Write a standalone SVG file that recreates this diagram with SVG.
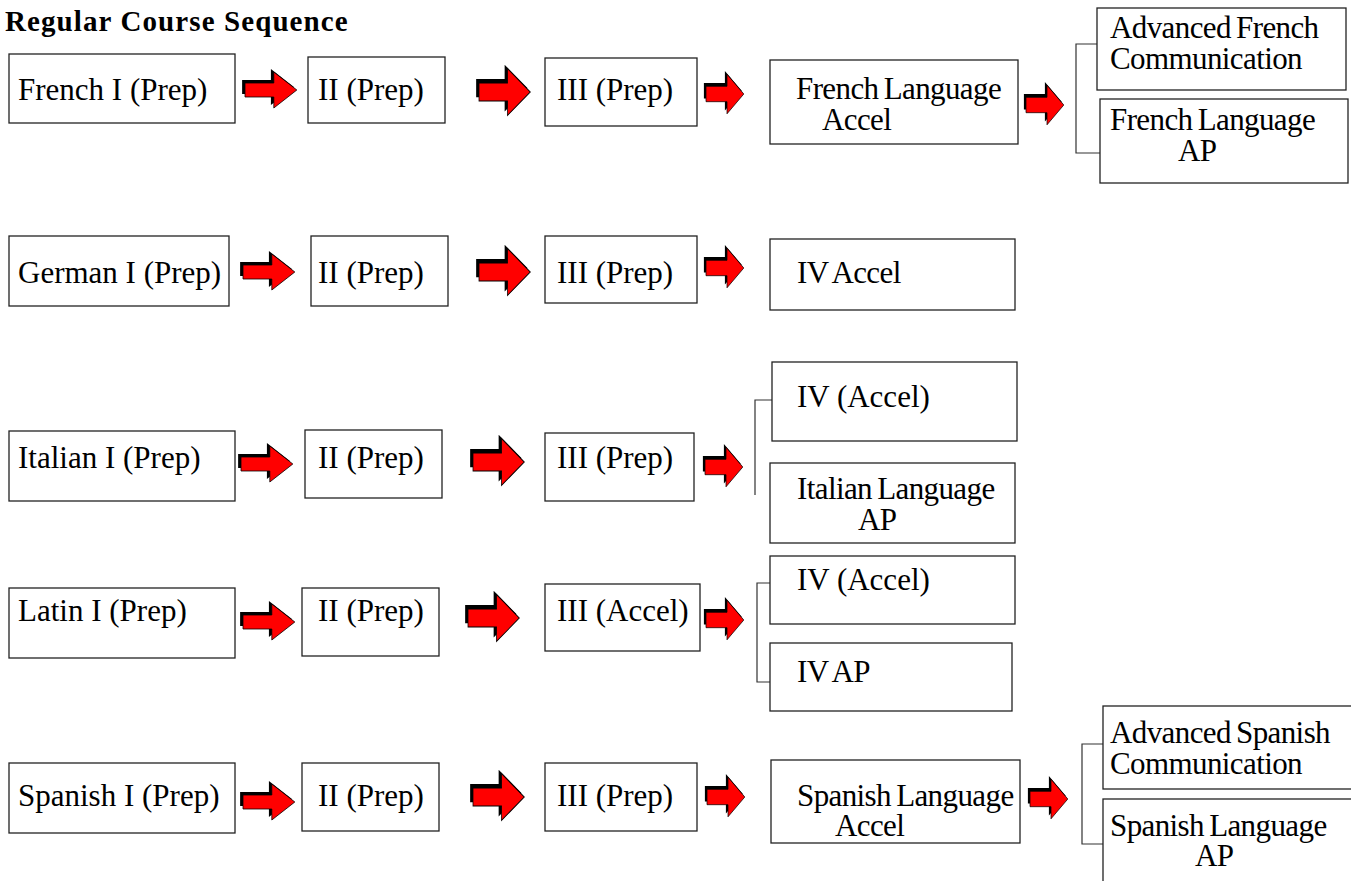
<svg xmlns="http://www.w3.org/2000/svg" xmlns:xlink="http://www.w3.org/1999/xlink" width="1351" height="881" viewBox="0 0 1351 881">
<style>
.box{fill:#fff;stroke:#222;stroke-width:1.3}
.t{font-family:"Liberation Serif","Times New Roman",serif;font-size:31px;fill:#000;letter-spacing:0px;word-spacing:0px}
.n{letter-spacing:-0.6px;word-spacing:-2px}
.title{font-family:"Liberation Serif","Times New Roman",serif;font-size:29px;font-weight:bold;fill:#000;letter-spacing:1.1px}
.br{fill:none;stroke:#333;stroke-width:1.2}
</style>
<defs>
<g id="arrow">
<path d="M0,-7 H30 V-18 L54,0 L30,18 V7 H0 Z" fill="#000" transform="translate(-3,-3)"/>
<path d="M0,-7 H30 V-18 L54,0 L30,18 V7 H0 Z" fill="#ff0000" stroke="#000" stroke-width="0.8"/>
</g>
</defs>
<rect width="1351" height="881" fill="#fff"/>
<text class="title" x="5" y="31">Regular Course Sequence</text>

<g id="connectors">
<use xlink:href="#arrow" transform="translate(245,90) scale(0.96,1)"/>
<use xlink:href="#arrow" transform="translate(479,92) scale(0.95,1.3)"/>
<use xlink:href="#arrow" transform="translate(706,94) scale(0.7,1.1)"/>
<use xlink:href="#arrow" transform="translate(1026,105) scale(0.7,1.1)"/>
<path class="br" d="M1097,44 H1076 V153 H1100"/>

<use xlink:href="#arrow" transform="translate(243,272) scale(0.96,1)"/>
<use xlink:href="#arrow" transform="translate(479,272) scale(0.95,1.3)"/>
<use xlink:href="#arrow" transform="translate(706,268) scale(0.7,1.1)"/>

<use xlink:href="#arrow" transform="translate(241,464) scale(0.96,1)"/>
<use xlink:href="#arrow" transform="translate(473,462) scale(0.95,1.3)"/>
<use xlink:href="#arrow" transform="translate(705,467) scale(0.7,1.1)"/>
<path class="br" d="M772,400 H755 V495"/>

<use xlink:href="#arrow" transform="translate(243,622) scale(0.96,1)"/>
<use xlink:href="#arrow" transform="translate(468,618) scale(0.95,1.3)"/>
<use xlink:href="#arrow" transform="translate(706,620) scale(0.7,1.1)"/>
<path class="br" d="M772,583 H757 V682 H772"/>

<use xlink:href="#arrow" transform="translate(243,802) scale(0.96,1)"/>
<use xlink:href="#arrow" transform="translate(473,797) scale(0.95,1.3)"/>
<use xlink:href="#arrow" transform="translate(707,797) scale(0.7,1.1)"/>
<use xlink:href="#arrow" transform="translate(1030,799) scale(0.7,1.1)"/>
<path class="br" d="M1103,744 H1082 V844 H1103"/>
</g>

<g id="french1"><rect class="box" x="9" y="54" width="226" height="69"/><text class="t" x="18" y="100">French I (Prep)</text></g>
<g id="french2"><rect class="box" x="308" y="57" width="137" height="66"/><text class="t" x="318" y="100">II (Prep)</text></g>
<g id="french3"><rect class="box" x="545" y="58" width="152" height="68"/><text class="t" x="557" y="100">III (Prep)</text></g>
<g id="french4"><rect class="box" x="770" y="60" width="248" height="84"/><text class="t n" x="796" y="99">French Language</text><text class="t n" x="822" y="130">Accel</text></g>
<g id="french5"><rect class="box" x="1097" y="8" width="249" height="82"/><text class="t n" x="1110" y="38">Advanced French</text><text class="t n" x="1110" y="69">Communication</text></g>
<g id="french6"><rect class="box" x="1100" y="99" width="248" height="84"/><text class="t n" x="1110" y="130">French Language</text><text class="t n" x="1178" y="161">AP</text></g>

<g id="german1"><rect class="box" x="9" y="236" width="220" height="70"/><text class="t" x="18" y="283">German I (Prep)</text></g>
<g id="german2"><rect class="box" x="311" y="236" width="137" height="70"/><text class="t" x="318" y="283">II (Prep)</text></g>
<g id="german3"><rect class="box" x="545" y="236" width="152" height="67"/><text class="t" x="557" y="283">III (Prep)</text></g>
<g id="german4"><rect class="box" x="770" y="239" width="245" height="71"/><text class="t n" x="797" y="283">IV Accel</text></g>

<g id="italian1"><rect class="box" x="9" y="431" width="226" height="70"/><text class="t" x="18" y="468">Italian I (Prep)</text></g>
<g id="italian2"><rect class="box" x="305" y="430" width="137" height="68"/><text class="t" x="318" y="468">II (Prep)</text></g>
<g id="italian3"><rect class="box" x="545" y="433" width="149" height="68"/><text class="t" x="557" y="468">III (Prep)</text></g>
<g id="italian4"><rect class="box" x="772" y="362" width="245" height="79"/><text class="t" x="797" y="407">IV (Accel)</text></g>
<g id="italian5"><rect class="box" x="770" y="463" width="245" height="80"/><text class="t n" x="797" y="499">Italian Language</text><text class="t n" x="858" y="530">AP</text></g>

<g id="latin1"><rect class="box" x="9" y="588" width="226" height="70"/><text class="t" x="18" y="621">Latin I (Prep)</text></g>
<g id="latin2"><rect class="box" x="302" y="588" width="137" height="68"/><text class="t" x="318" y="621">II (Prep)</text></g>
<g id="latin3"><rect class="box" x="545" y="584" width="155" height="67"/><text class="t" x="557" y="621">III (Accel)</text></g>
<g id="latin4"><rect class="box" x="770" y="556" width="245" height="68"/><text class="t" x="797" y="590">IV (Accel)</text></g>
<g id="latin5"><rect class="box" x="770" y="643" width="242" height="68"/><text class="t n" x="797" y="682">IV AP</text></g>

<g id="spanish1"><rect class="box" x="9" y="763" width="226" height="70"/><text class="t" x="18" y="806">Spanish I (Prep)</text></g>
<g id="spanish2"><rect class="box" x="302" y="763" width="137" height="68"/><text class="t" x="318" y="806">II (Prep)</text></g>
<g id="spanish3"><rect class="box" x="545" y="763" width="152" height="68"/><text class="t" x="557" y="806">III (Prep)</text></g>
<g id="spanish4"><rect class="box" x="771" y="760" width="249" height="83"/><text class="t n" x="797" y="806">Spanish Language</text><text class="t n" x="835" y="836">Accel</text></g>
<g id="spanish5"><rect class="box" x="1103" y="706" width="252" height="83"/><text class="t n" x="1110" y="743">Advanced Spanish</text><text class="t n" x="1110" y="774">Communication</text></g>
<g id="spanish6"><rect class="box" x="1103" y="799" width="252" height="90"/><text class="t n" x="1110" y="836">Spanish Language</text><text class="t n" x="1195" y="866">AP</text></g>
</svg>
